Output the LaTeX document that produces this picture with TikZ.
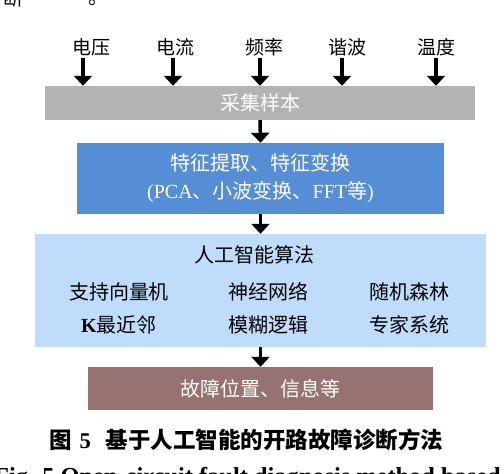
\documentclass[tikz,border=0pt]{standalone}
\usepackage{fontspec}
\setmainfont{Liberation Serif}
\newfontfamily\cjk{Noto Sans CJK SC}
\newfontfamily\lat{Liberation Serif}
\usetikzlibrary{arrows.meta}
\definecolor{boxgray}{RGB}{179,179,179}
\definecolor{boxblue}{RGB}{85,142,213}
\definecolor{boxlight}{RGB}{191,221,251}
\definecolor{boxbrown}{RGB}{150,115,112}
\tikzset{
  lbl/.style={font=\cjk\fontsize{19}{22}\selectfont, inner sep=0pt},
  bigarrow/.style={line width=3.5pt, -{Triangle[width=18pt,length=10pt]}},
  flowbox/.style={rectangle, inner sep=0pt, draw=none, align=center,
    font=\cjk\fontsize{20}{28}\selectfont},
  alg/.style={font=\cjk\fontsize{20}{22}\selectfont, inner sep=0pt},
}
\begin{document}
\begin{tikzpicture}[x=1pt,y=-1pt]
\useasboundingbox (0,0) rectangle (504,474);
\clip (0,0) rectangle (504,474);
% page fragments
\node[anchor=base west, inner sep=0pt, font=\cjk\fontsize{20}{22}\selectfont] (frag1) at (3,5) {断};
\node[anchor=base west, inner sep=0pt, font=\cjk\fontsize{20}{22}\selectfont] (frag2) at (88,4) {。};
% inputs
\node[lbl] (l1) at (91,47) {电压};
\node[lbl] (l2) at (175,47) {电流};
\node[lbl] (l3) at (264,47) {频率};
\node[lbl] (l4) at (347,47) {谐波};
\node[lbl] (l5) at (436,47) {温度};
% boxes
\node[flowbox, fill=boxgray, text=white, minimum width=430pt, minimum height=34pt] (g) at (260,103) {采集样本};
\node[flowbox, fill=boxblue, text=white, minimum width=367pt, minimum height=71pt] (b) at (260.5,178.5)
  {特征提取、特征变换\\{\lat (PCA}、小波变换、{\lat FFT}等{\lat )}};
\node[flowbox, fill=boxlight, minimum width=451pt, minimum height=113pt] (lb) at (260.5,290.5) {};
\node[flowbox, fill=boxbrown, text=white, minimum width=345pt, minimum height=43pt] (br) at (260.5,388.5) {故障位置、信息等};
% algorithm texts
\node[alg] (ai) at (254,255) {人工智能算法};
\node[alg] (a1) at (119,292) {支持向量机};
\node[alg] (a2) at (268,292) {神经网络};
\node[alg] (a3) at (409,292) {随机森林};
\node[alg] (a4) at (119,325) {{\lat\bfseries K}最近邻};
\node[alg] (a5) at (268,325) {模糊逻辑};
\node[alg] (a6) at (409,325) {专家系统};
% input arrows
\coordinate (c1) at (83,58);
\coordinate (c2) at (173,58);
\coordinate (c3) at (260,58);
\coordinate (c4) at (342,58);
\coordinate (c5) at (436,58);
\foreach \i in {1,...,5} \draw[bigarrow] (c\i) -- (c\i |- g.north);
% flow arrows
\draw[bigarrow] (g.south) -- (b.north);
\draw[bigarrow] (b.south) -- (lb.north);
\draw[bigarrow] (lb.south) -- (br.north);
% caption
\node[anchor=west, inner sep=0pt, font=\cjk\bfseries\fontsize{22.5}{24}\selectfont] (cap) at (49,440) {图\hspace{8pt}{\lat\bfseries 5}\hspace{15pt}基于人工智能的开路故障诊断方法};
\node[anchor=base west, inner sep=0pt, font=\lat\bfseries\fontsize{24.4}{26}\selectfont] (eng) at (-6,484) {Fig. 5 Open-circuit fault diagnosis method based on};
\end{tikzpicture}
\end{document}
